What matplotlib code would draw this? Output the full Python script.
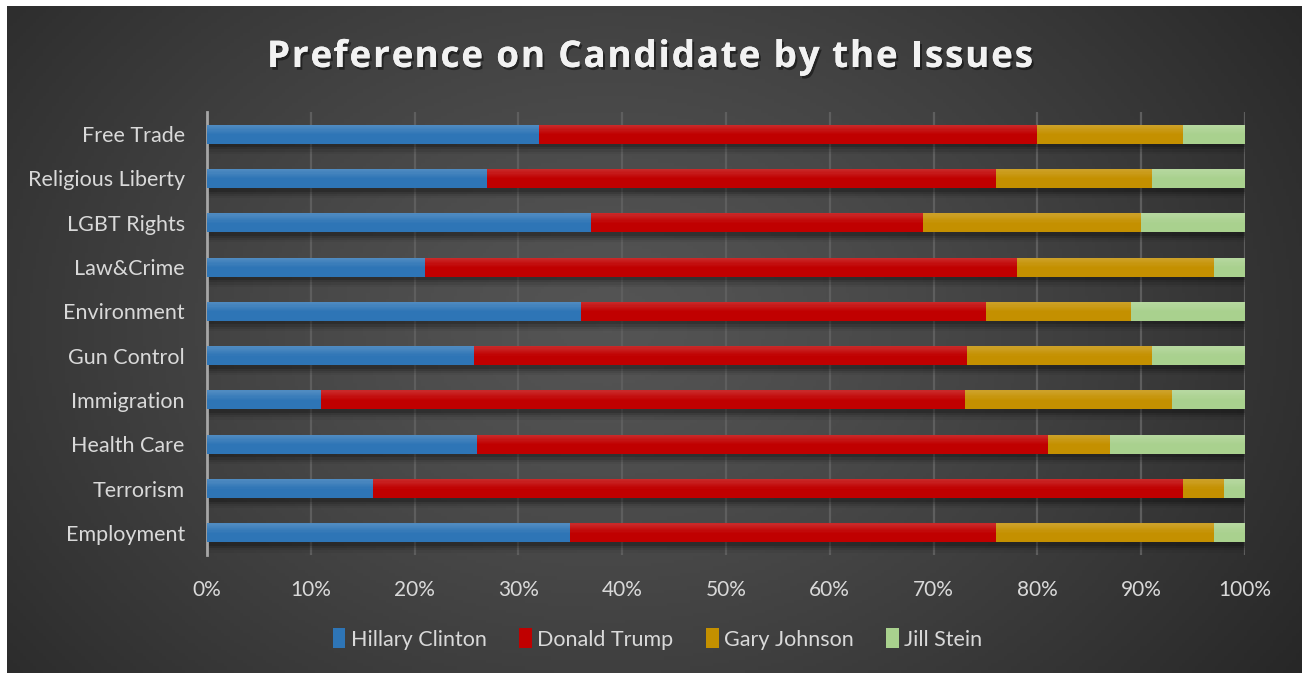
import numpy as np
import matplotlib
matplotlib.use("Agg")
import matplotlib.pyplot as plt
import matplotlib.patheffects as pe
from matplotlib.patches import Patch
from matplotlib.font_manager import FontProperties

categories = ["Employment", "Terrorism", "Health Care", "Immigration", "Gun Control",
              "Environment", "Law&Crime", "LGBT Rights", "Religious Liberty", "Free Trade"]
clinton = [35, 16, 26, 11, 25.7, 36, 21, 37, 27, 32]
trump   = [41, 78, 55, 62, 47.5, 39, 57, 32, 49, 48]
johnson = [21, 4, 6, 20, 17.8, 14, 19, 21, 15, 14]
stein   = [3, 2, 13, 7, 9, 11, 3, 10, 9, 6]
series_names = ["Hillary Clinton", "Donald Trump", "Gary Johnson", "Jill Stein"]
colors = ["#2e75b6", "#c00000", "#c49000", "#a9d18e"]
xticks = [0, 10, 20, 30, 40, 50, 60, 70, 80, 90, 100]
xtick_labels = [f"{t}%" for t in xticks]
title_text = "Preference on Candidate by the Issues"

W, H = 1302, 673
fig = plt.figure(figsize=(W / 100, H / 100), dpi=100)
fig.patch.set_facecolor("white")

# background radial gradient panel
bg = fig.add_axes([7 / W, 0, 1 - 7 / W, 1 - 6 / H])
bg.set_axis_off()
yy, xx = np.mgrid[0:200, 0:400]
cx, cy = 185, 95
d = np.sqrt(((xx - cx) / 260.0) ** 2 + ((yy - cy) / 190.0) ** 2)
val = 0.33 - 0.18 * np.clip(d, 0, 1) ** 1.3
img = np.dstack([val, val, val])
bg.imshow(img, aspect="auto", extent=[0, 1, 0, 1], origin="upper")
bg.set_xlim(0, 1); bg.set_ylim(0, 1)

# main axes
left, right = 207 / W, 1245 / W
bottom, top = 1 - 555 / H, 1 - 112 / H
ax = fig.add_axes([left, bottom, right - left, top - bottom])
ax.patch.set_alpha(0)

y = np.arange(len(categories))
data = [clinton, trump, johnson, stein]
bh = 0.43
totals = np.sum(np.array(data), axis=0)

# shadows
for off, a in [(0.08, 0.16), (0.13, 0.12), (0.18, 0.08), (0.23, 0.05)]:
    ax.barh(y - off, totals, height=bh, left=0, color="black", alpha=a, zorder=1, linewidth=0)

lefts = np.zeros(len(categories))
nstrip = 8
for vals, c, name in zip(data, colors, series_names):
    vals = np.array(vals)
    ax.barh(y, vals, height=bh, left=lefts, color=c, zorder=3, linewidth=0, label=name)
    # soft top highlight (gradient look)
    sh = bh * 0.5 / nstrip
    for k in range(nstrip):
        yc = y + bh / 2 - sh * (k + 0.5)
        ax.barh(yc, vals, height=sh, left=lefts, color="white",
                alpha=0.16 * (1 - k / nstrip), zorder=4, linewidth=0)
    lefts = lefts + vals

ax.set_xlim(0, 100)
ax.set_ylim(-0.5, len(categories) - 0.5)
ax.set_xticks(xticks)
ax.set_xticklabels(xtick_labels)
ax.set_yticks(y)
ax.set_yticklabels(categories)
ax.grid(axis="x", color="#5e5e5e", linewidth=1.6, zorder=0)
ax.set_axisbelow(True)
for s in ["top", "right", "bottom"]:
    ax.spines[s].set_visible(False)
ax.spines["left"].set_color("#a6a6a6")
ax.spines["left"].set_linewidth(2)
ax.tick_params(axis="both", length=0, colors="#d9d9d9")
ax.tick_params(axis="x", pad=18, labelsize=15)
ax.tick_params(axis="y", pad=16, labelsize=15.5)
for lab in ax.get_xticklabels() + ax.get_yticklabels():
    lab.set_fontfamily("Lato")
    lab.set_color("#d9d9d9")

# letter-spaced title
renderer = fig.canvas.get_renderer()
tprop = FontProperties(family="Open Sans", weight="bold", size=26.5)
def text_w(s):
    if not s:
        return 0.0
    w, h, dsc = renderer.get_text_width_height_descent(s + "|", tprop, ismath=False)
    w2, _, _ = renderer.get_text_width_height_descent("|", tprop, ismath=False)
    return w - w2
natural = text_w(title_text)
target = 766.0
spacing = (target - natural) / (len(title_text) - 1)
x0 = 650 - target / 2
ty = 1 - 67 / H
for i, ch in enumerate(title_text):
    if ch == " ":
        continue
    xp = x0 + text_w(title_text[:i]) + i * spacing
    t = fig.text(xp / W, ty, ch, ha="left", va="baseline", fontproperties=tprop,
                 color="#f2f2f2")
    t.set_path_effects([pe.withSimplePatchShadow(offset=(1.5, -2), shadow_rgbFace="black", alpha=0.45),
                        pe.Normal()])

handles = [Patch(facecolor=c, edgecolor="none", label=n) for c, n in zip(colors, series_names)]
leg = fig.legend(handles=handles, loc="center", bbox_to_anchor=(0.505, 1 - 639 / H),
                 ncol=4, frameon=False, handlelength=0.6, handleheight=1.0,
                 handletextpad=0.25, columnspacing=1.5,
                 prop={"family": "Lato", "size": 15.5})
for t in leg.get_texts():
    t.set_color("#d9d9d9")

fig.savefig("out.png", dpi=100, facecolor=fig.get_facecolor())
